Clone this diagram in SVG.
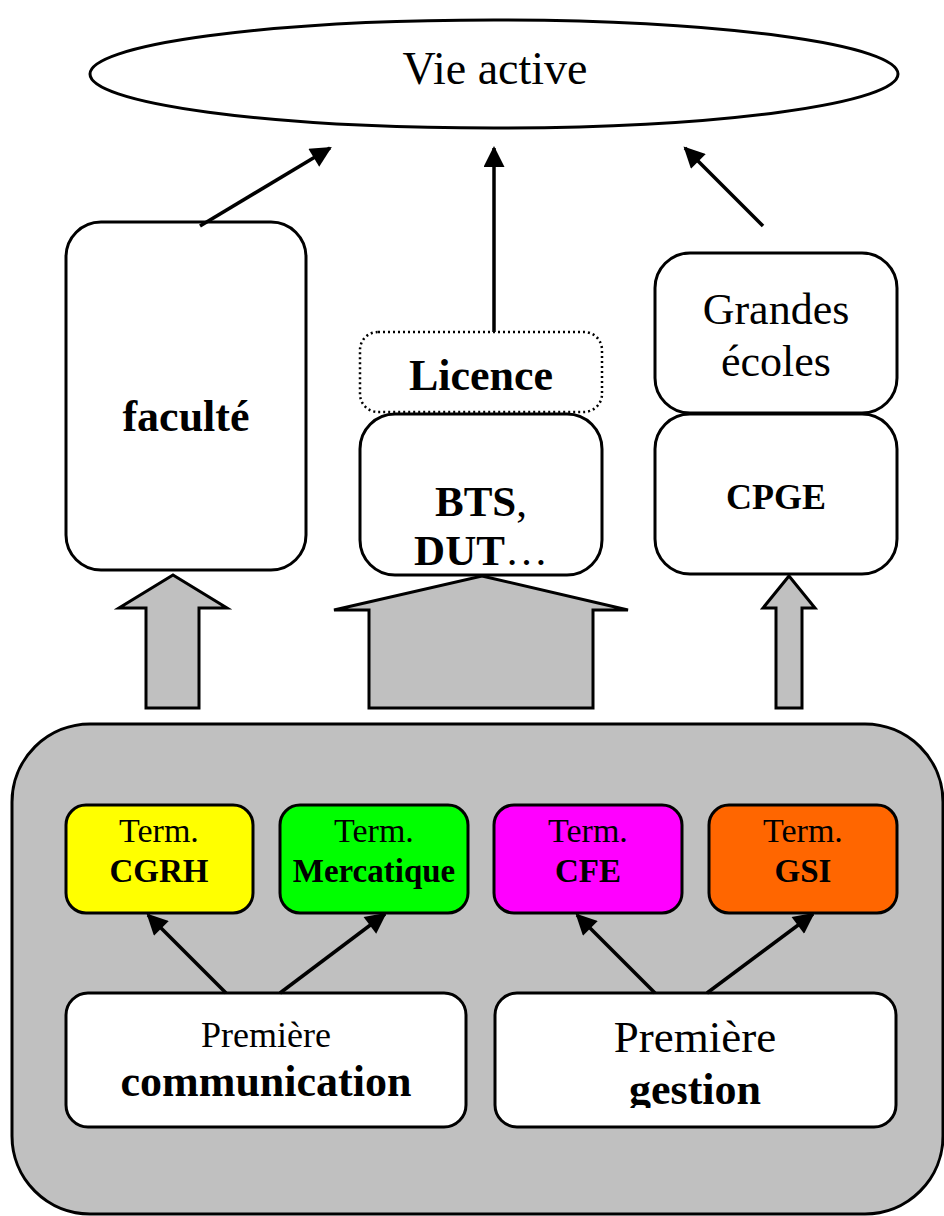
<svg xmlns="http://www.w3.org/2000/svg" width="944" height="1216" viewBox="0 0 944 1216">
<style>
.box{fill:#fff;stroke:#000;stroke-width:3}
.dot{fill:#fff;stroke:#000;stroke-width:2.5;stroke-dasharray:2 3}
.blk{fill:#c0c0c0;stroke:#000;stroke-width:3;stroke-linejoin:miter}
.ln{stroke:#000;stroke-width:3.5;fill:none}
text{font-family:"Liberation Serif","Times New Roman",serif;fill:#000;text-anchor:middle}
.b{font-weight:bold}
</style>
<defs>
<marker id="ah" viewBox="0 0 10 10" refX="9" refY="5" markerWidth="7" markerHeight="6" markerUnits="strokeWidth" orient="auto">
<path d="M0,0 L10,5 L0,10 z" fill="#000"/>
</marker>
<clipPath id="gclip"><rect x="495" y="993" width="402" height="115"/></clipPath>
</defs>
<g id="container"><rect x="12" y="724" width="931" height="490" rx="78" ry="78" class="blk"/></g>
<g id="vie-active">
<ellipse cx="494" cy="74" rx="404" ry="54" class="box"/>
<text x="495" y="84" font-size="46">Vie active</text>
</g>
<g id="faculte">
<rect x="66" y="222" width="240" height="348" rx="35" class="box"/>
<text x="186" y="431" font-size="44" class="b">faculté</text>
</g>
<g id="licence">
<rect x="360" y="332" width="242" height="80" rx="18" class="dot"/>
<text x="481" y="390" font-size="44" class="b">Licence</text>
</g>
<g id="bts">
<rect x="360" y="414" width="242" height="161" rx="35" class="box"/>
<text x="481" y="516" font-size="43"><tspan class="b">BTS</tspan>,</text>
<text x="481" y="565" font-size="43"><tspan class="b">DUT</tspan>…</text>
</g>
<g id="grandes-ecoles">
<rect x="655" y="253" width="242" height="160" rx="35" class="box"/>
<text x="776" y="324" font-size="44">Grandes</text>
<text x="776" y="376" font-size="44">écoles</text>
</g>
<g id="cpge">
<rect x="655" y="414" width="242" height="160" rx="35" class="box"/>
<text x="776" y="509" font-size="36" class="b">CPGE</text>
</g>
<g id="block-arrows">
<polygon class="blk" points="173,575 227,608 199,608 199,708 146,708 146,608 119,608"/>
<polygon class="blk" points="482,576 628,610 593,610 593,708 369,708 369,610 334,610"/>
<polygon class="blk" points="789,576 815,608 802,608 802,708 776,708 776,608 763,608"/>
</g>
<g id="term-cgrh">
<rect x="66" y="805" width="187" height="108" rx="20" fill="#ffff00" stroke="#000" stroke-width="3"/>
<text x="159" y="842" font-size="34">Term.</text>
<text x="159" y="882" font-size="33" class="b">CGRH</text>
</g>
<g id="term-mercatique">
<rect x="280" y="805" width="188" height="108" rx="20" fill="#00ff00" stroke="#000" stroke-width="3"/>
<text x="374" y="842" font-size="34">Term.</text>
<text x="374" y="882" font-size="33" class="b">Mercatique</text>
</g>
<g id="term-cfe">
<rect x="494" y="805" width="188" height="108" rx="20" fill="#ff00ff" stroke="#000" stroke-width="3"/>
<text x="588" y="842" font-size="34">Term.</text>
<text x="588" y="882" font-size="33" class="b">CFE</text>
</g>
<g id="term-gsi">
<rect x="709" y="805" width="188" height="108" rx="20" fill="#ff6600" stroke="#000" stroke-width="3"/>
<text x="803" y="842" font-size="34">Term.</text>
<text x="803" y="882" font-size="33" class="b">GSI</text>
</g>
<g id="premiere-communication">
<rect x="66" y="993" width="400" height="134" rx="22" class="box"/>
<text x="266" y="1047" font-size="36">Première</text>
<text x="266" y="1096" font-size="44" class="b">communication</text>
</g>
<g id="premiere-gestion">
<rect x="495" y="993" width="401" height="134" rx="22" class="box"/>
<text x="695" y="1052" font-size="45">Première</text>
<text x="695" y="1104" font-size="44" class="b" clip-path="url(#gclip)">gestion</text>
</g>
<g id="connectors">
<line class="ln" x1="200" y1="226" x2="330" y2="148" marker-end="url(#ah)"/>
<line class="ln" x1="494" y1="332" x2="494" y2="148" marker-end="url(#ah)"/>
<line class="ln" x1="763" y1="226" x2="685" y2="148" marker-end="url(#ah)"/>
<line class="ln" x1="226" y1="993" x2="148" y2="915" marker-end="url(#ah)"/>
<line class="ln" x1="280" y1="993" x2="385" y2="914" marker-end="url(#ah)"/>
<line class="ln" x1="655" y1="993" x2="577" y2="915" marker-end="url(#ah)"/>
<line class="ln" x1="707" y1="993" x2="813" y2="914" marker-end="url(#ah)"/>
</g>
</svg>
